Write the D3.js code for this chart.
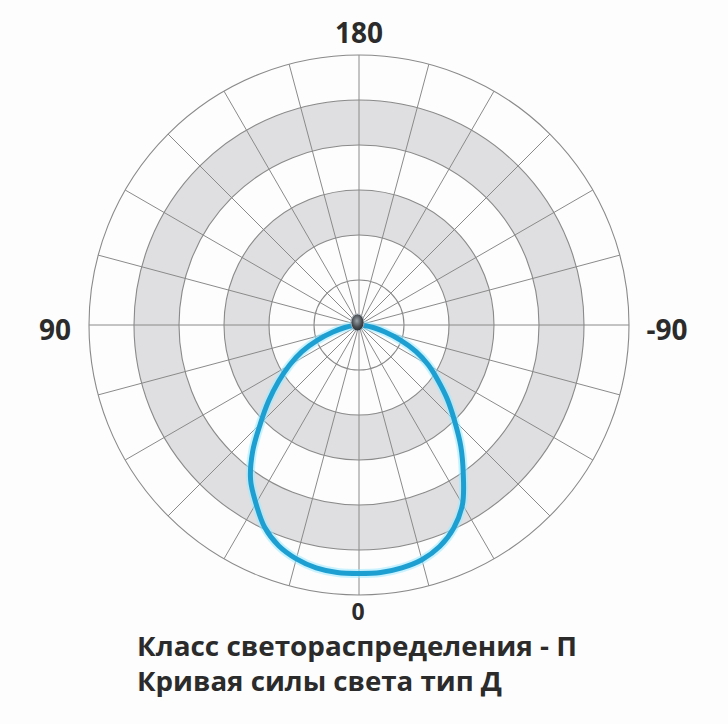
<!DOCTYPE html>
<html><head><meta charset="utf-8">
<script src="https://cdn.jsdelivr.net/npm/d3@7"></script>
<style>html,body{margin:0;padding:0;background:#fdfdfd;}svg{display:block;}</style>
</head><body>
<svg id="c" width="728" height="724"></svg>
<script>
// Data
const ringValues = [50, 100, 150, 200, 250, 300];
const bandRanges = [[100, 150], [200, 250]];
const spokeAngles = d3.range(0, 360, 15);
const curveAngles = [-90,-85,-80,-75,-70,-65,-60,-55,-50,-45,-40,-35,-30,-25,-20,-15,-10,-5,0,5,10,15,20,25,30,35,40,45,50,55,60,65,70,75,80,85,90];
const curveValues = [0,6,16,30,49,70,89,107,128,150,176,202,230,249,262,270,274,276,276,276,274,269,261,248,229,210,184,155,131,109,89,70,49,30,16,6,0];
const angleLabels = [{t:"180", a:180}, {t:"90", a:90}, {t:"-90", a:-90}, {t:"0", a:0}];
const titleLines = ["Класс светораспределения - П", "Кривая силы света тип Д"];

const svg = d3.select("#c");
const cx = 359, cy = 325, R = 270;
const r = d3.scaleLinear().domain([0, 300]).range([0, R]);
// light angle 0 = down, +90 = left; clockwise-from-top radians
const ang = d => (180 + d) * Math.PI / 180;

const g = svg.append("g").attr("transform", `translate(${cx},${cy})`);

// white disc
g.append("circle").attr("r", R).attr("fill", "#fdfdfd");
// gray bands
const arc = d3.arc();
g.selectAll("path.band").data(bandRanges).join("path")
  .attr("class", "band")
  .attr("d", d => arc({innerRadius: r(d[0]), outerRadius: r(d[1]), startAngle: 0, endAngle: 2 * Math.PI}))
  .attr("fill", "#dfdfe1");
// spokes
g.selectAll("line.spoke").data(spokeAngles).join("line")
  .attr("class", "spoke")
  .attr("x1", 0).attr("y1", 0)
  .attr("x2", d => r(300) * Math.sin(d * Math.PI / 180))
  .attr("y2", d => -r(300) * Math.cos(d * Math.PI / 180))
  .attr("stroke", "#8a8a8a").attr("stroke-width", 1);
// rings
g.selectAll("circle.ring").data(ringValues).join("circle")
  .attr("class", "ring")
  .attr("r", d => r(d))
  .attr("fill", "none").attr("stroke", "#8a8a8a").attr("stroke-width", 1.1);

// curve
const pts = curveAngles.map((a, i) => [ang(a), r(curveValues[i])]);
const line = d3.lineRadial().angle(d => d[0]).radius(d => d[1]).curve(d3.curveCatmullRomClosed);
g.append("path").attr("d", line(pts)).attr("fill", "none")
  .attr("stroke", "#9eeaff").attr("stroke-width", 9).attr("stroke-opacity", 0.55);
g.append("path").attr("d", line(pts)).attr("fill", "none")
  .attr("stroke", "#1e9fd2").attr("stroke-width", 5);

// center lamp
const defs = svg.append("defs");
const rg = defs.append("radialGradient").attr("id", "lamp").attr("cx", "45%").attr("cy", "40%").attr("r", "60%");
rg.append("stop").attr("offset", "0%").attr("stop-color", "#9aa4aa");
rg.append("stop").attr("offset", "60%").attr("stop-color", "#4a4f54");
rg.append("stop").attr("offset", "100%").attr("stop-color", "#2a2d30");
g.append("ellipse").attr("cx", -1.5).attr("cy", -2.5).attr("rx", 6.5).attr("ry", 8.5)
  .attr("fill", "url(#lamp)").attr("stroke", "#aab4bb").attr("stroke-width", 1);

// angle labels
const lblPos = {
  "180": [cx, 43], "90": [55, 340], "-90": [667, 340], "0": [358, 620]
};
svg.selectAll("text.al").data(angleLabels).join("text")
  .attr("class", "al")
  .attr("x", d => lblPos[d.t][0]).attr("y", d => lblPos[d.t][1])
  .attr("text-anchor", "middle")
  .attr("font-family", "'Open Sans', sans-serif").attr("font-weight", 700)
  .attr("font-size", d => d.t === "0" ? 23 : 28)
  .attr("fill", "#2b2b2b")
  .text(d => d.t);

// title lines
const tl = [[137, 656, 440], [137, 691, 365]];
svg.selectAll("text.tt").data(titleLines).join("text")
  .attr("class", "tt")
  .attr("x", (d, i) => tl[i][0]).attr("y", (d, i) => tl[i][1])
  .attr("textLength", (d, i) => tl[i][2]).attr("lengthAdjust", "spacingAndGlyphs")
  .attr("font-family", "'Open Sans', sans-serif").attr("font-weight", 700)
  .attr("font-size", 26.5).attr("fill", "#2b2b2b")
  .text(d => d);
</script>
</body></html>
